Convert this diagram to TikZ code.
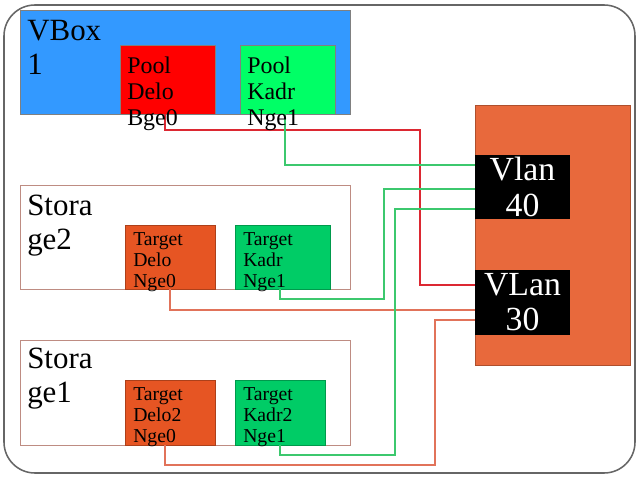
\documentclass[tikz,border=0pt]{standalone}
\usepackage{fontspec}
\setmainfont{Liberation Serif}
\usetikzlibrary{fit}
\definecolor{vboxblue}{RGB}{51,153,255}
\definecolor{pooldelo}{RGB}{255,0,0}
\definecolor{poolkadr}{RGB}{0,255,102}
\definecolor{targetdelo}{RGB}{230,85,35}
\definecolor{targetkadr}{RGB}{0,204,102}
\definecolor{switchorange}{RGB}{232,105,60}
\definecolor{storeedge}{RGB}{190,140,130}
\definecolor{greenwire}{RGB}{60,200,110}
\definecolor{orangewire}{RGB}{225,115,90}
\definecolor{redwire}{RGB}{220,40,50}
\tikzset{
    box/.style={draw=#1!75!black, fill=#1, inner sep=0pt},
    hostlabel/.style={anchor=north west, inner sep=0pt, align=left, font=\fontsize{22}{24}\selectfont},
    poollabel/.style={anchor=north west, inner sep=0pt, align=left, font=\fontsize{17}{18.5}\selectfont},
    targetlabel/.style={anchor=north west, inner sep=0pt, align=left, font=\fontsize{14}{15}\selectfont},
    vlanbox/.style={fill=black, text=white, inner sep=0pt, align=center, minimum width=2.375cm, font=\fontsize{24}{25}\selectfont},
    wire/.style={#1, line width=0.9pt}
}
\begin{document}
\begin{tikzpicture}[x=0.025cm, y=-0.025cm]
        \useasboundingbox (0, 0) rectangle (640, 480);
        \draw[gray!80!black, line width=1.1pt, rounded corners=22] (4, 5) rectangle (635, 473);
        \node[box=vboxblue, draw=gray, fit={(20, 10) (350, 114)}] (vbox) {};
        \node[box=pooldelo, draw=gray, fit={(120, 45) (215, 114)}] (pd) {};
        \node[box=poolkadr, draw=gray, fit={(240, 45) (335, 114)}] (pk) {};
        \node[draw=storeedge, fit={(20, 185) (350, 289)}, inner sep=0pt] (st2) {};
        \node[box=targetdelo, fit={(125, 225) (215, 289)}] (td) {};
        \node[box=targetkadr, fit={(235, 225) (330, 289)}] (tk) {};
        \node[draw=storeedge, fit={(20, 340) (350, 445)}, inner sep=0pt] (st1) {};
        \node[box=targetdelo, fit={(125, 380) (215, 445)}] (td2) {};
        \node[box=targetkadr, fit={(235, 380) (325, 445)}] (tk2) {};
        \node[box=switchorange, fit={(475, 105) (630, 365)}] (sw) {};
        \node[vlanbox, minimum height=1.6cm] (v40) at (522.5, 187) {Vlan\\40};
        \node[vlanbox, minimum height=1.625cm] (v30) at (522.5, 302.5) {VLan\\30};
        \draw[wire=redwire] ([shift={(-2.5, 0)}]pd.south) |- (420, 130) |- ([shift={(0, -17.5)}]v30.west);
        \draw[wire=greenwire] ([shift={(-2.5, 0)}]pk.south) |- ([shift={(0, -22)}]v40.west);
        \draw[wire=greenwire] ([shift={(-2.5, 0)}]tk.south) |- (384, 299) |- ([shift={(0, 2)}]v40.west);
        \draw[wire=orangewire] (td.south) |- ([shift={(0, 7.5)}]v30.west);
        \draw[wire=greenwire] (tk2.south) |- (395, 455) |- ([shift={(0, 22)}]v40.west);
        \draw[wire=orangewire] ([shift={(-5, 0)}]td2.south) |- (435, 465) |- ([shift={(0, 17.5)}]v30.west);
        \node[hostlabel] (vboxname) at (27, 20) {VBox\\1};
        \node[hostlabel] (st2name) at (27, 195) {Stora\\ge2};
        \node[hostlabel] (st1name) at (27, 348) {Stora\\ge1};
        \node[poollabel] (pdname) at (127, 57) {Pool\\Delo\\Bge0};
        \node[poollabel] (pkname) at (247, 57) {Pool\\Kadr\\Nge1};
        \node[targetlabel] (tdname) at (133, 232) {Target\\Delo\\Nge0};
        \node[targetlabel] (tkname) at (243, 232) {Target\\Kadr\\Nge1};
        \node[targetlabel] (td2name) at (133, 387) {Target\\Delo2\\Nge0};
        \node[targetlabel] (tk2name) at (243, 387) {Target\\Kadr2\\Nge1};
    \end{tikzpicture}
\end{document}
